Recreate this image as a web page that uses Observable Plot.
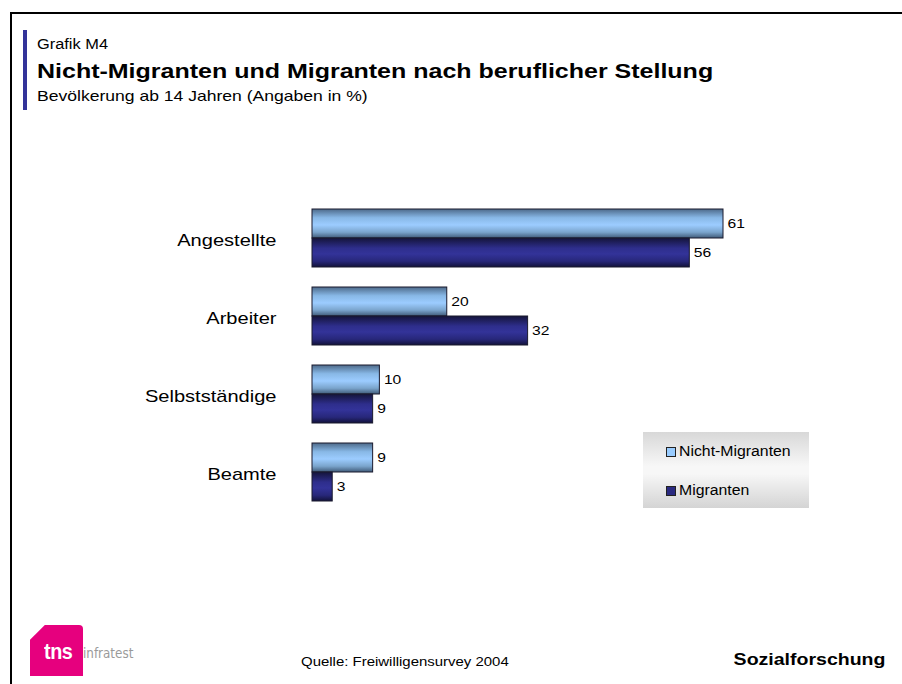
<!DOCTYPE html>
<html>
<head>
<meta charset="utf-8">
<script src="https://cdn.jsdelivr.net/npm/d3@7"></script>
<script src="https://cdn.jsdelivr.net/npm/@observablehq/plot@0.6"></script>
<style>
  html, body { margin: 0; padding: 0; background: #fff; }
  #page { position: relative; width: 902px; height: 684px; overflow: hidden; font-family: "Liberation Sans", Arial, sans-serif; }
  .abs { position: absolute; white-space: nowrap; }
  .sl { transform-origin: left center; }
  .sr { transform-origin: right center; }
</style>
</head>
<body>
<div id="page">
  <div class="abs" style="left:10px;top:12px;width:892px;height:2px;background:#000"></div>
  <div class="abs" style="left:10px;top:12px;width:2px;height:672px;background:#000"></div>
  <div class="abs" style="left:23px;top:30px;width:4px;height:80px;background:#333399"></div>
  <div class="abs sl" style="left:37px;top:36px;font-size:14px;color:#000;transform:scaleX(1.17)">Grafik M4</div>
  <div class="abs sl" style="left:37px;top:59px;font-size:21px;font-weight:bold;color:#000;transform:scaleX(1.19)">Nicht-Migranten und Migranten nach beruflicher Stellung</div>
  <div class="abs sl" style="left:37px;top:88px;font-size:14.5px;color:#000;transform:scaleX(1.21)">Bevölkerung ab 14 Jahren (Angaben in %)</div>
  <div id="chart" class="abs" style="left:0;top:0"></div>
  <div class="abs" style="left:643px;top:432px;width:166px;height:76px;background:linear-gradient(to bottom,#d8d8d8 0%,#f7f7f7 45%,#f7f7f7 55%,#d4d4d4 100%)"></div>
  <div class="abs" style="left:666px;top:447px;width:8px;height:8px;border:1px solid #222;background:#99ccff"></div>
  <div class="abs sl" style="left:679px;top:443px;font-size:14px;color:#000;transform:scaleX(1.13)">Nicht-Migranten</div>
  <div class="abs" style="left:666px;top:486px;width:8px;height:8px;border:1px solid #222;background:#2a2a80"></div>
  <div class="abs sl" style="left:679px;top:482px;font-size:14px;color:#000;transform:scaleX(1.13)">Migranten</div>
  <!-- logo -->
  <div class="abs" style="left:30px;top:625px;width:53px;height:51px;background:#e6007e;border-top-right-radius:4px;clip-path:polygon(28% 0,100% 0,100% 100%,0 100%,0 29%)"></div>
  <div class="abs sl" style="left:44px;top:639px;font-size:22px;font-weight:bold;color:#fff;letter-spacing:-0.5px;transform:scaleX(0.9)">tns</div>
  <div class="abs sl" style="left:83px;top:645px;font-size:14px;color:#9a9a9a;font-family:'Liberation Sans Narrow','DejaVu Sans Condensed',sans-serif;transform:scaleX(0.95)">infratest</div>
  <div class="abs sl" style="left:301px;top:654px;font-size:13px;color:#000;transform:scaleX(1.15)">Quelle: Freiwilligensurvey 2004</div>
  <div class="abs sr" style="right:17px;top:651px;font-size:16px;font-weight:bold;color:#000;transform:scaleX(1.22)">Sozialforschung</div>
</div>
<script>
const categories = ["Angestellte", "Arbeiter", "Selbstständige", "Beamte"];
const series = ["Nicht-Migranten", "Migranten"];
const nichtMigranten = [61, 20, 10, 9];
const migranten = [56, 32, 9, 3];

const data = [];
categories.forEach((c, i) => {
  data.push({category: c, series: series[0], value: nichtMigranten[i]});
  data.push({category: c, series: series[1], value: migranten[i]});
});

const chart = Plot.plot({
  width: 902,
  height: 684,
  marginLeft: 312,
  marginRight: 179,
  marginTop: 207,
  marginBottom: 182,
  style: {background: "transparent", fontFamily: "Liberation Sans, Arial, sans-serif"},
  x: {domain: [0, d3.max([...nichtMigranten, ...migranten])], axis: null},
  y: {domain: series, padding: 0, axis: null},
  fy: {domain: categories, paddingInner: 0.24, paddingOuter: 0, label: null},
  color: {domain: series, range: ["url(#gLight)", "url(#gDark)"]},
  marks: [
    Plot.axisFy({anchor: "left", tickSize: 0, tickPadding: 36, fontSize: 17, label: null, dy: 3, fill: "#000", className: "cat-label"}),
    Plot.barX(data, {fy: "category", y: "series", x: "value", fill: "series", stroke: "#1a1a2e", strokeWidth: 1}),
    Plot.text(data, {fy: "category", y: "series", x: "value", text: d => String(d.value), textAnchor: "start", dx: 4, fontSize: 13, fill: "#000", className: "val-label"})
  ]
});

const ns = "http://www.w3.org/2000/svg";
const defs = document.createElementNS(ns, "defs");
defs.innerHTML = `
  <linearGradient id="gLight" x1="0" y1="0" x2="0" y2="1">
    <stop offset="0" stop-color="#4d6a8a"/>
    <stop offset="0.3" stop-color="#88b8e6"/>
    <stop offset="0.55" stop-color="#9cccff"/>
    <stop offset="0.8" stop-color="#7aa4cc"/>
    <stop offset="1" stop-color="#3f5a78"/>
  </linearGradient>
  <linearGradient id="gDark" x1="0" y1="0" x2="0" y2="1">
    <stop offset="0" stop-color="#14143a"/>
    <stop offset="0.35" stop-color="#2e2e8c"/>
    <stop offset="0.55" stop-color="#333399"/>
    <stop offset="0.8" stop-color="#27277a"/>
    <stop offset="1" stop-color="#12123a"/>
  </linearGradient>`;
chart.insertBefore(defs, chart.firstChild);
document.getElementById("chart").appendChild(chart);

// widen glyphs horizontally to match the reference's stretched lettering
function stretch(selector, k) {
  chart.querySelectorAll(selector).forEach(t => {
    const len = t.getComputedTextLength();
    t.setAttribute("textLength", (len * k).toFixed(1));
    t.setAttribute("lengthAdjust", "spacingAndGlyphs");
  });
}
stretch(".cat-label text", 1.18);
stretch(".val-label text", 1.2);
</script>
</body>
</html>
